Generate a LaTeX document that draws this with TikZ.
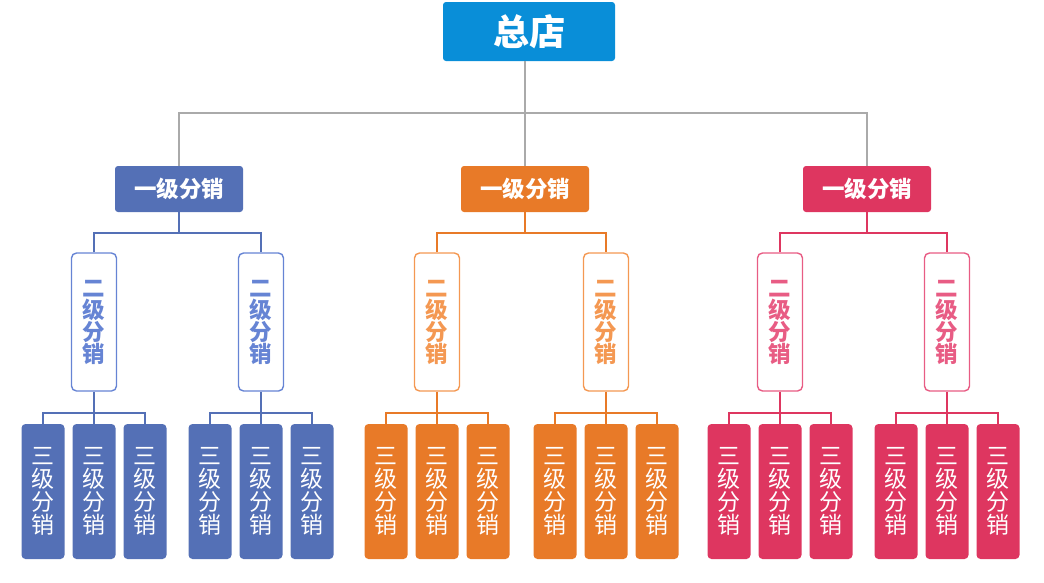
\documentclass[tikz,border=0pt]{standalone}
\usepackage{fontspec}
\setmainfont{Noto Sans CJK SC}
\definecolor{topblue}{RGB}{9,142,216}
\definecolor{cb}{RGB}{84,112,182}
\definecolor{tb}{RGB}{102,132,212}
\definecolor{co}{RGB}{232,122,40}
\definecolor{to}{RGB}{244,152,82}
\definecolor{cr}{RGB}{222,54,96}
\definecolor{tr}{RGB}{232,92,132}
\definecolor{gline}{RGB}{170,170,170}
\tikzset{
  topbox/.style={fill=topblue, rounded corners=3pt, minimum width=172pt, minimum height=59pt, inner sep=0pt, text=white, font=\fontsize{36}{40}\selectfont\bfseries},
  lone/.style={fill=#1, rounded corners=3pt, minimum width=128pt, minimum height=46pt, inner sep=0pt, text=white, font=\fontsize{22.5}{24}\selectfont\bfseries},
  ltwo/.style 2 args={draw=#1, line width=1.4pt, fill=white, rounded corners=5pt, minimum width=45pt, minimum height=138pt, inner sep=0pt, align=center, text=#2, font=\fontsize{22.5}{22}\selectfont\bfseries},
  lthree/.style={fill=#1, rounded corners=4pt, minimum width=43pt, minimum height=135pt, inner sep=0pt, align=center, text=white, font=\fontsize{23}{23}\selectfont},
  conn/.style={draw=#1, line width=1.6pt},
}
\begin{document}
\begin{tikzpicture}[x=1pt,y=-1pt]
\useasboundingbox (0,0) rectangle (1044,582);
\node[topbox] (top) at (529,31.5) {总店};
\foreach \g/\c/\t/\L/\A/\B in {b/cb/tb/179/94/261, o/co/to/525/437/606, r/cr/tr/867/780/947} {
  \node[lone=\c] (\g1) at (\L,189) {一级分销};
  \node[ltwo={\t}{\t}] (\g2a) at (\A,322) {二\\级\\分\\销};
  \node[ltwo={\t}{\t}] (\g2b) at (\B,322) {二\\级\\分\\销};
  \foreach \s/\X in {a/\A, b/\B} {
    \foreach \k/\dx in {1/-1,2/0,3/1} {
      \node[lthree=\c] (\g3\s\k) at (\X+\dx*51,491.5) {三\\级\\分\\销};
    }
    \draw[conn=\c] (\g2\s.south) -- ++(0,21) coordinate (\g\s bus);
    \draw[conn=\c] (\g3\s1.north) |- (\g\s bus) -| (\g3\s3.north);
    \draw[conn=\c] (\g\s bus) -- (\g3\s2.north);
  }
  \draw[conn=\c] (\g1.south) -- ++(0,21) coordinate (\g bus);
  \draw[conn=\c] (\g2a.north) |- (\g bus) -| (\g2b.north);
}
\coordinate (bus) at (524,113);
\draw[conn=gline, line width=1.4pt] (top.south -| o1.north) -- (o1.north);
\draw[conn=gline, line width=1.4pt] (b1.north) |- (bus) -| (r1.north);
\end{tikzpicture}
\end{document}
